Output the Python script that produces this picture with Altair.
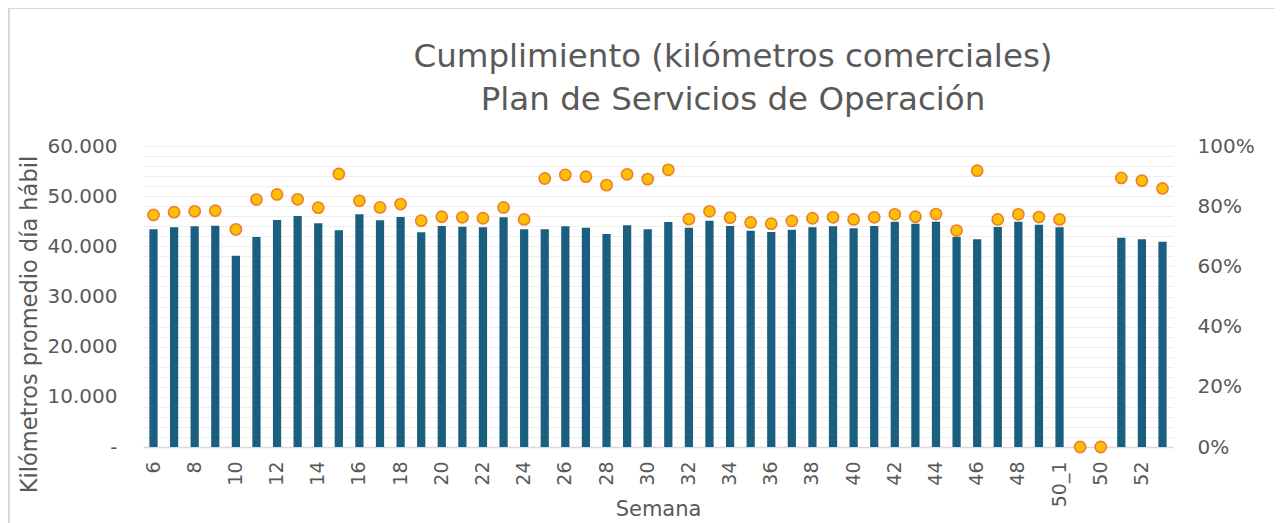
import altair as alt
import pandas as pd

title_lines = ["Cumplimiento (kilómetros comerciales)", "Plan de Servicios de Operación"]
weeks = [str(w) for w in range(6, 50)] + ["50_1", "50_2", "50", "51", "52", "53"]
km = [43390, 43790, 43990, 44120, 38140, 41860, 45250, 46050, 44590, 43190,
      46380, 45180, 45850, 42790, 44050, 43920, 43790, 45780, 43390, 43390,
      43990, 43720, 42460, 44190, 43390, 44850, 43720, 45120, 44050, 43120,
      42860, 43320, 43790, 43990, 43590, 44050, 44920, 44520, 44920, 41860,
      41400, 43850, 44920, 44320, 43790, None, None, 41730, 41400, 40930]
pct = [0.771, 0.780, 0.783, 0.785, 0.723, 0.822, 0.839, 0.823, 0.795, 0.907,
       0.818, 0.796, 0.807, 0.752, 0.765, 0.763, 0.760, 0.796, 0.756, 0.892,
       0.904, 0.898, 0.870, 0.906, 0.890, 0.921, 0.757, 0.783, 0.762, 0.746,
       0.742, 0.751, 0.760, 0.763, 0.756, 0.763, 0.773, 0.765, 0.774, 0.719,
       0.918, 0.756, 0.773, 0.764, 0.756, 0.0, 0.0, 0.894, 0.885, 0.859]

df = pd.DataFrame({"Semana": weeks, "km": km, "pct": pct})

FONT = "DejaVu Sans"
GREY = "#595959"

x = alt.X("Semana:N", sort=weeks,
          scale=alt.Scale(paddingInner=0.6, paddingOuter=0.31),
          axis=alt.Axis(values=weeks[::2], labelAngle=270, labelFontSize=19,
                        labelColor=GREY, labelFont=FONT, labelPadding=14,
                        ticks=False, domainColor="#d9d9d9", domainWidth=1.5,
                        title="Semana", titleFontSize=21, titleFont=FONT,
                        titleColor=GREY, titleFontWeight="normal",
                        titleY=51, titleBaseline="top"))

base = alt.Chart(df).encode(x=x)

bars = base.mark_bar(color="#1a5f80").encode(
    y=alt.Y("km:Q", scale=alt.Scale(domain=[0, 60000], nice=False),
            axis=alt.Axis(values=list(range(0, 60001, 2000)),
                          labelExpr="datum.value % 10000 != 0 ? '' : (datum.value == 0 ? '-\u00a0\u00a0\u00a0' : replace(format(datum.value, ',.0f'), ',', '.'))",
                          labelFontSize=20, labelColor=GREY, labelFont=FONT,
                          labelPadding=26, ticks=False, domain=False,
                          grid=True, gridColor="#eeeeee", gridWidth=1,
                          title="Kilómetros promedio día hábil", titleFontSize=22.5,
                          titleFont=FONT, titleColor=GREY, titleFontWeight="normal",
                          titleY=178, titlePadding=6))
)

dots = base.mark_point(filled=True, fill="#FFC000", stroke="#ED7D31",
                       strokeWidth=1.6, size=125, opacity=1, shape="circle").encode(
    y=alt.Y("pct:Q", scale=alt.Scale(domain=[0, 1], nice=False),
            axis=alt.Axis(values=[0, 0.2, 0.4, 0.6, 0.8, 1.0], format=".0%",
                          orient="right", labelFontSize=20, labelColor=GREY,
                          labelFont=FONT, labelPadding=24, ticks=False,
                          domain=False, grid=False, title=None))
)

frame = alt.Chart(df.head(1)).mark_rect(fill=None, stroke="#d9d9d9", strokeWidth=2,
                                        clip=False).encode(
    x=alt.value(-134), x2=alt.value(1135), y=alt.value(-138), y2=alt.value(400)
)

t1 = alt.Chart(pd.DataFrame({"t": [title_lines[0]]})).mark_text(
    font=FONT, fontSize=32.5, color=GREY, align="center", baseline="middle"
).encode(text="t:N", x=alt.value(590), y=alt.value(-89))
t2 = alt.Chart(pd.DataFrame({"t": [title_lines[1]]})).mark_text(
    font=FONT, fontSize=32.5, color=GREY, align="center", baseline="middle"
).encode(text="t:N", x=alt.value(590), y=alt.value(-46))

chart = alt.layer(frame, t1, t2, bars, dots).resolve_scale(y="independent").properties(
    width=1030, height=301,
    autosize=alt.AutoSizeParams(type="none"),
    padding={"left": 135, "top": 138, "right": 102, "bottom": 76},
).configure_view(stroke=None)

chart.save("out.html", embed_options={"renderer": "svg", "actions": False})
